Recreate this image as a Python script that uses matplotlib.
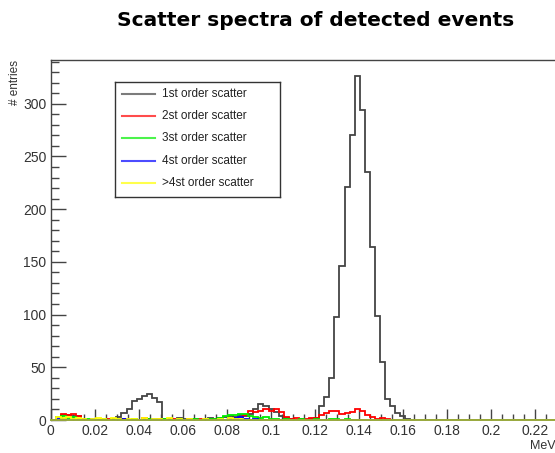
import matplotlib
matplotlib.use('Agg')
import matplotlib.pyplot as plt
import numpy as np
from matplotlib.ticker import MultipleLocator

# 100 bins over 0-0.23 MeV
x_lo, x_hi, n_bins = 0.0, 0.23, 100

# entries per bin, one array per scatter order
first_order = [
    0, 0, 5, 5, 4, 4, 1, 0, 1, 0, 1, 0, 1, 3, 7, 10, 18, 20, 23, 25,
    21, 17, 1, 1, 0, 2, 1, 0, 1, 0, 1, 2, 1, 2, 3, 4, 3, 5, 4, 6,
    10, 15, 13, 10, 8, 4, 2, 1, 0, 1, 0, 1, 2, 13, 22, 40, 98, 146, 221, 270,
    326, 294, 235, 164, 99, 55, 20, 13, 7, 4, 1, 0, 0, 0, 0, 0, 0, 0, 0, 0,
    0, 0, 0, 0, 0, 0, 0, 0, 0, 0, 0, 0, 0, 0, 0, 0, 0, 0, 0, 0,
]
second_order = [
    0, 3, 6, 5, 6, 4, 1, 0, 1, 0, 0, 1, 0, 0, 1, 0, 1, 0, 2, 1,
    0, 1, 0, 0, 1, 0, 0, 1, 0, 1, 0, 0, 1, 1, 0, 1, 2, 3, 5, 9,
    8, 9, 10, 9, 10, 8, 3, 1, 2, 0, 1, 2, 2, 5, 7, 9, 9, 6, 7, 8,
    10, 9, 5, 3, 1, 2, 1, 0, 0, 0, 0, 0, 0, 0, 0, 0, 0, 0, 0, 0,
    0, 0, 0, 0, 0, 0, 0, 0, 0, 0, 0, 0, 0, 0, 0, 0, 0, 0, 0, 0,
]
third_order = [
    0, 3, 4, 2, 3, 1, 0, 1, 0, 0, 1, 0, 0, 1, 0, 0, 1, 0, 0, 1,
    0, 0, 1, 0, 0, 1, 0, 0, 1, 0, 0, 1, 1, 2, 4, 5, 5, 6, 6, 4,
    3, 2, 3, 1, 1, 0, 1, 0, 0, 1, 0, 0, 1, 0, 0, 1, 1, 0, 1, 0,
    0, 0, 0, 0, 0, 0, 0, 0, 0, 0, 0, 0, 0, 0, 0, 0, 0, 0, 0, 0,
    0, 0, 0, 0, 0, 0, 0, 0, 0, 0, 0, 0, 0, 0, 0, 0, 0, 0, 0, 0,
]
fourth_order = [
    0, 2, 1, 0, 1, 0, 0, 0, 1, 0, 0, 0, 0, 0, 1, 0, 0, 0, 0, 0,
    1, 0, 0, 0, 0, 0, 0, 0, 0, 0, 0, 0, 0, 0, 0, 1, 2, 3, 1, 0,
    1, 0, 0, 0, 0, 0, 0, 0, 0, 0, 0, 0, 0, 0, 0, 0, 0, 0, 0, 0,
    0, 0, 0, 0, 0, 0, 0, 0, 0, 0, 0, 0, 0, 0, 0, 0, 0, 0, 0, 0,
    0, 0, 0, 0, 0, 0, 0, 0, 0, 0, 0, 0, 0, 0, 0, 0, 0, 0, 0, 0,
]
higher_order = [
    0, 3, 2, 3, 1, 2, 1, 0, 1, 2, 1, 0, 2, 1, 0, 1, 1, 0, 2, 0,
    1, 1, 0, 2, 0, 1, 0, 1, 0, 0, 1, 0, 0, 1, 0, 2, 1, 1, 0, 0,
    0, 0, 0, 0, 0, 0, 0, 0, 0, 0, 0, 0, 0, 0, 0, 0, 0, 0, 0, 0,
    0, 0, 0, 0, 0, 0, 0, 0, 0, 0, 0, 0, 0, 0, 0, 0, 0, 0, 0, 0,
    0, 0, 0, 0, 0, 0, 0, 0, 0, 0, 0, 0, 0, 0, 0, 0, 0, 0, 0, 0,
]

labels = ['1st order scatter', '2st order scatter', '3st order scatter',
          '4st order scatter', '>4st order scatter']
colors = ['#444444', '#ff0000', '#00ee00', '#0000ff', '#ffff00']
series = [first_order, second_order, third_order, fourth_order, higher_order]

W, H = 555, 453
fig = plt.figure(figsize=(W / 100, H / 100), dpi=100)
plt.rcParams['font.family'] = ['Liberation Sans', 'DejaVu Sans']

# axes frame in pixels: left 50.5, top 60, bottom 420, right just past the edge
ax = fig.add_axes([50.5 / W, (H - 420) / H, 507 / W, 360 / H])

edges = np.linspace(x_lo, x_hi, n_bins + 1)
for vals, c in zip(series, colors):
    ax.stairs(vals, edges, color=c, lw=1.3, zorder=2)

ax.set_xlim(x_lo, x_hi)
ax.set_ylim(0, 341.5)

frame = '#444444'
for s in ax.spines.values():
    s.set_color(frame)
    s.set_linewidth(1.0)
ax.spines['bottom'].set_color('#98a83c')
ax.spines['bottom'].set_linewidth(1.4)

ax.xaxis.set_major_locator(MultipleLocator(0.02))
ax.xaxis.set_minor_locator(MultipleLocator(0.005))
ax.yaxis.set_major_locator(MultipleLocator(50))
ax.yaxis.set_minor_locator(MultipleLocator(10))
ax.set_xticks(np.arange(0, 0.2201, 0.02))
ax.set_xticklabels(['0', '0.02', '0.04', '0.06', '0.08', '0.1', '0.12', '0.14',
                    '0.16', '0.18', '0.2', '0.22'])
ax.tick_params(axis='x', which='major', direction='in', length=8, width=1,
               color=frame, labelsize=10, labelcolor='#333333', pad=3)
ax.tick_params(axis='x', which='minor', direction='in', length=4, width=1,
               color=frame)
ax.tick_params(axis='y', which='major', direction='in', length=11, width=1,
               color=frame, labelsize=10, labelcolor='#333333', pad=3)
ax.tick_params(axis='y', which='minor', direction='in', length=5.5, width=1,
               color=frame)

fig.text(15 / W, 1 - 60 / H, '# entries', rotation=90, ha='center', va='top',
         fontsize=8.5, color='#333333')
fig.text(556 / W, 1 - 446 / H, 'MeV', ha='right', va='center',
         fontsize=9, color='#333333')

fig.text(316 / W, 1 - 20 / H, 'Scatter spectra of detected events',
         ha='center', va='center', fontsize=14.5, fontweight='bold',
         family='DejaVu Sans')

# legend box, drawn in its own pixel space
lax = fig.add_axes([115 / W, 1 - 197 / H, 165 / W, 115 / H])
lax.set_xlim(0, 165)
lax.set_ylim(115, 0)
lax.set_xticks([])
lax.set_yticks([])
for s in lax.spines.values():
    s.set_color('#333333')
    s.set_linewidth(1.0)
for i, (lab, c) in enumerate(zip(labels, colors)):
    yy = 12 + i * 22.2
    lax.plot([7, 40], [yy, yy], color=c, lw=1.5, alpha=0.7)
    lax.text(47, yy, lab, va='center', ha='left', fontsize=8.5, color='#222222')

fig.savefig('out.png', dpi=100)
